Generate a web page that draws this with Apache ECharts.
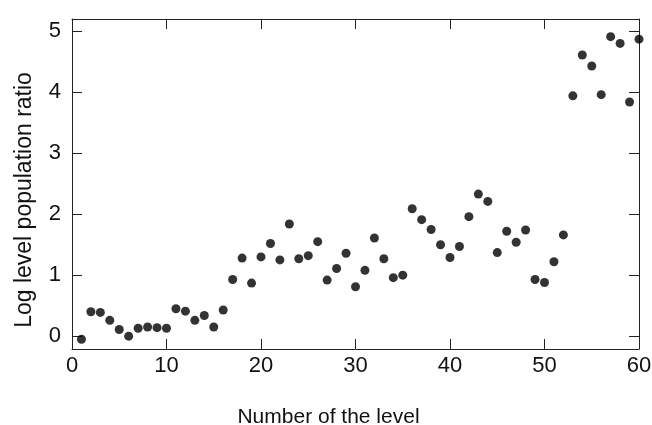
<!DOCTYPE html>
<html>
<head>
<meta charset="utf-8">
<script src="https://cdn.jsdelivr.net/npm/echarts@6/dist/echarts.min.js"></script>
<style>html,body{margin:0;padding:0;background:#fff}#c{width:652px;height:425px}</style>
</head>
<body>
<div id="c"></div>
<script>
const levels = [1,2,3,4,5,6,7,8,9,10,11,12,13,14,15,16,17,18,19,20,21,22,23,24,25,26,27,28,29,30,31,32,33,34,35,36,37,38,39,40,41,42,43,44,45,46,47,48,49,50,51,52,53,54,55,56,57,58,59,60];
const logRatio = [-0.05,0.40,0.39,0.26,0.11,0.00,0.13,0.15,0.14,0.13,0.45,0.41,0.26,0.34,0.15,0.43,0.93,1.28,0.87,1.30,1.52,1.25,1.84,1.27,1.32,1.55,0.92,1.11,1.36,0.81,1.08,1.61,1.27,0.96,1.00,2.09,1.91,1.75,1.50,1.29,1.47,1.96,2.33,2.21,1.37,1.72,1.54,1.74,0.93,0.88,1.22,1.66,3.94,4.61,4.43,3.96,4.91,4.80,3.84,4.87];
const xTicks = [0,10,20,30,40,50,60];
const yTicks = [0,1,2,3,4,5];

const lineColor = '#222';
const font = 'Liberation Sans, Arial, sans-serif';
const chart = echarts.init(document.getElementById('c'));
const baseAxis = {
  axisLine: {show: true, onZero: false, lineStyle: {color: lineColor, width: 1}},
  splitLine: {show: false},
};
chart.setOption({
  animation: false,
  grid: {left: 72, right: 13, top: 19, bottom: 76, containLabel: false, outerBoundsMode: 'none'},
  xAxis: [
    Object.assign({}, baseAxis, {
      type: 'value', min: 0, max: 60, interval: 10, position: 'bottom',
      name: 'Number of the level', nameLocation: 'middle', nameGap: 58,
      nameTextStyle: {fontFamily: font, fontSize: 21, color: '#111', padding: [0, 54, 0, 0]},
      axisTick: {inside: true, length: 10, lineStyle: {color: lineColor}},
      axisLabel: {margin: 6, fontFamily: font, fontSize: 22, color: '#111',
        customValues: xTicks},
    }),
    Object.assign({}, baseAxis, {
      type: 'value', min: 0, max: 60, interval: 10, position: 'top',
      axisTick: {inside: true, length: 10, lineStyle: {color: lineColor}},
      axisLabel: {show: false},
    })
  ],
  yAxis: [
    Object.assign({}, baseAxis, {
      type: 'value', min: -0.21, max: 5.2, position: 'left',
      name: 'Log level population ratio', nameLocation: 'middle', nameGap: 36,
      nameRotate: 90,
      nameTextStyle: {fontFamily: font, fontSize: 23, color: '#111', padding: [0, 32, 0, 0]},
      axisTick: {inside: true, length: 10, customValues: yTicks, lineStyle: {color: lineColor}},
      axisLabel: {margin: 11, fontFamily: font, fontSize: 22, color: '#111',
        customValues: yTicks},
    }),
    Object.assign({}, baseAxis, {
      type: 'value', min: -0.21, max: 5.2, position: 'right',
      axisTick: {inside: true, length: 10, customValues: yTicks, lineStyle: {color: lineColor}},
      axisLabel: {show: false},
    })
  ],
  series: [{
    type: 'scatter',
    symbol: 'circle',
    symbolSize: 9,
    itemStyle: {color: '#000'},
    data: levels.map((l, i) => [l, logRatio[i]])
  }]
});
</script>
</body>
</html>
